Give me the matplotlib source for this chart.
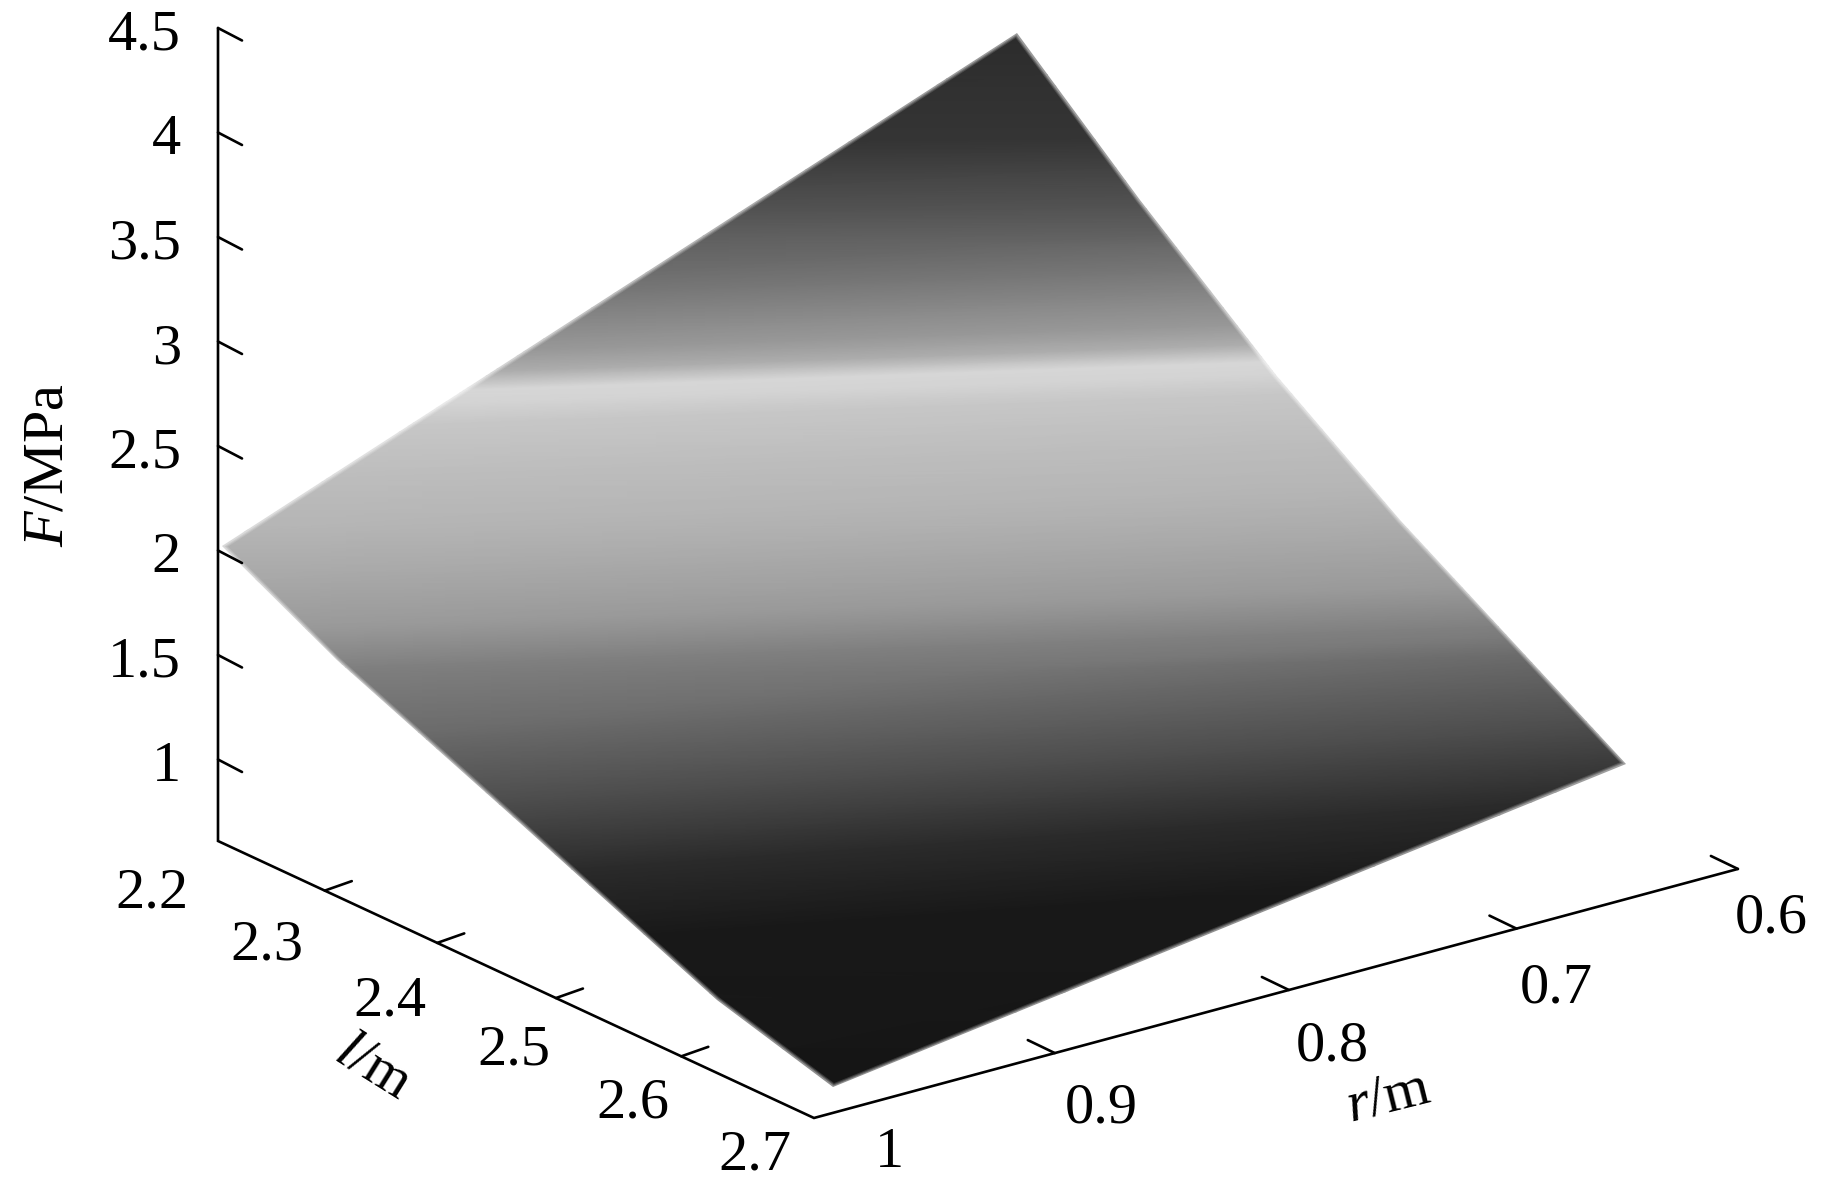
import numpy as np
import matplotlib
matplotlib.use("Agg")
import matplotlib.pyplot as plt
from matplotlib.patches import Polygon

plt.rcParams['font.family'] = ['Liberation Serif', 'DejaVu Serif']
plt.rcParams['mathtext.fontset'] = 'custom'
plt.rcParams['mathtext.rm'] = 'Liberation Serif'
plt.rcParams['mathtext.it'] = 'Liberation Serif:italic'

# axis values
F_ticks = [4.5, 4, 3.5, 3, 2.5, 2, 1.5, 1]
F_labels = ['4.5', '4', '3.5', '3', '2.5', '2', '1.5', '1']
l_ticks = [2.2, 2.3, 2.4, 2.5, 2.6, 2.7]
l_labels = ['2.2', '2.3', '2.4', '2.5', '2.6', '2.7']
r_ticks = [1, 0.9, 0.8, 0.7, 0.6]
r_labels = ['1', '0.9', '0.8', '0.7', '0.6']
F_floor = 0.61

# surface outline, going round from the left corner
outline_l = [2.2, 2.2, 2.306, 2.431, 2.535, 2.7, 2.7, 2.6165, 2.541, 2.4606, 2.3045]
outline_r = [0.998, 0.621, 0.624, 0.636, 0.644, 0.651, 0.992, 0.994, 0.9944, 0.995, 0.9968]
outline_F = [2.016, 3.54, 2.966, 2.428, 1.994, 1.258, 0.733, 0.909, 1.114, 1.327, 1.715]

# shading bands: height of each band at the two ends (read on the F axis) and its gray
band_F_left = [4.5, 3.926, 3.591, 3.165, 2.902, 2.806, 2.725, 2.663, 2.567, 2.328, 2.089, 1.849, 1.61, 1.419, 1.026, 0.691, 0.356, 0.022, -0.926]
band_F_right = [4.57, 3.998, 3.663, 3.423, 3.16, 3.065, 2.983, 2.921, 2.825, 2.586, 2.347, 2.108, 1.868, 1.677, 1.533, 1.199, 0.864, 0.529, -0.419]
band_gray = [0.17, 0.21, 0.33, 0.47, 0.6, 0.68, 0.84, 0.83, 0.78, 0.74, 0.71, 0.66, 0.6, 0.5, 0.41, 0.3, 0.17, 0.1, 0.085]


def project(l, r, F):
    # oblique view of the box, in pixels of the figure
    sl = (np.asarray(l, dtype=float) - 2.2) / 0.5
    sr = (1 - np.asarray(r, dtype=float)) / 0.4
    w = 1 - 0.127 * sl + 0.0503 * sr
    x = (218 + 492.6 * sl + 894 * sr) / w
    y = (841 + 135 * sl - 173.7 * sr) / w - (np.asarray(F, dtype=float) - F_floor) * 209
    return x, y


fig = plt.figure(figsize=(18.42, 11.82), dpi=100)
ax = fig.add_axes([0, 0, 1, 1])
ax.set_xlim(0, 1842)
ax.set_ylim(1182, 0)
ax.axis('off')

# surface
n = len(band_gray)
x_left = project(2.2, 1, 0)[0]
x_right = project(2.7, 0.6, 0)[0]
X = np.column_stack([np.full(n, x_left), np.full(n, x_right)])
Y = np.column_stack([project(2.2, 1, band_F_left)[1], project(2.2, 1, band_F_right)[1]])
C = np.column_stack([band_gray, band_gray])
mesh = ax.pcolormesh(X, Y, C, shading='gouraud', cmap='gray', vmin=0, vmax=1, zorder=1)
ox, oy = project(outline_l, outline_r, outline_F)
outline = Polygon(np.column_stack([ox, oy]), closed=True, transform=ax.transData, fill=False, edgecolor='none')
ax.add_patch(outline)
mesh.set_clip_path(outline)
# soft border
for lw, a in [(5, 0.15), (3.5, 0.2), (2, 0.3)]:
    ax.add_patch(Polygon(np.column_stack([ox, oy]), closed=True, fill=False, edgecolor='white',
                         linewidth=lw, alpha=a, joinstyle='round', zorder=2))

axis_kw = dict(color='black', linewidth=1.9, solid_capstyle='round', solid_joinstyle='miter', zorder=3)

# box edges
ex, ey = project([2.2, 2.2, 2.7, 2.7], [1, 1, 1, 0.6], [4.5, F_floor, F_floor, F_floor])
ax.plot(ex, ey, **axis_kw)

# F axis
for v, s in zip(F_ticks, F_labels):
    x, y = project(2.2, 1, v)
    ax.plot([x, x + 24], [y, y + 12.5], **axis_kw)
    ax.text(x - 37, y + 2, s, fontsize=42, ha='right', va='center_baseline')

# l axis
l_off = [(-66, 46), (-58, 49), (-47, 53), (-42, 46), (-48, 41), (-59, 32)]
for v, s, (dx, dy) in zip(l_ticks, l_labels, l_off):
    x, y = project(v, 1, F_floor)
    if 2.2 < v < 2.7:
        ax.plot([x, x + 27], [y, y - 9.5], **axis_kw)
    ax.text(x + dx, y + dy, s, fontsize=42, ha='center', va='center_baseline')

# r axis
r_off = [(75, 29), (46, 49), (43, 51), (40, 54), (33, 44)]
for v, s, (dx, dy) in zip(r_ticks, r_labels, r_off):
    x, y = project(2.7, v, F_floor)
    if v < 1:
        ax.plot([x, x - 27], [y, y - 13], **axis_kw)
    ax.text(x + dx, y + dy, s, fontsize=42, ha='center', va='center_baseline')

# axis titles
ax.text(48, 465, r'$\mathit{F}$/MPa', fontsize=42, rotation=90, ha='center', va='center')
ax.text(373, 1067, r'$\mathit{l}$/m', fontsize=42, rotation=-32, ha='center', va='center')
ax.text(1388, 1098, r'$\mathit{r}$/m', fontsize=42, rotation=14, ha='center', va='center')

fig.savefig('out.png', dpi=100)
